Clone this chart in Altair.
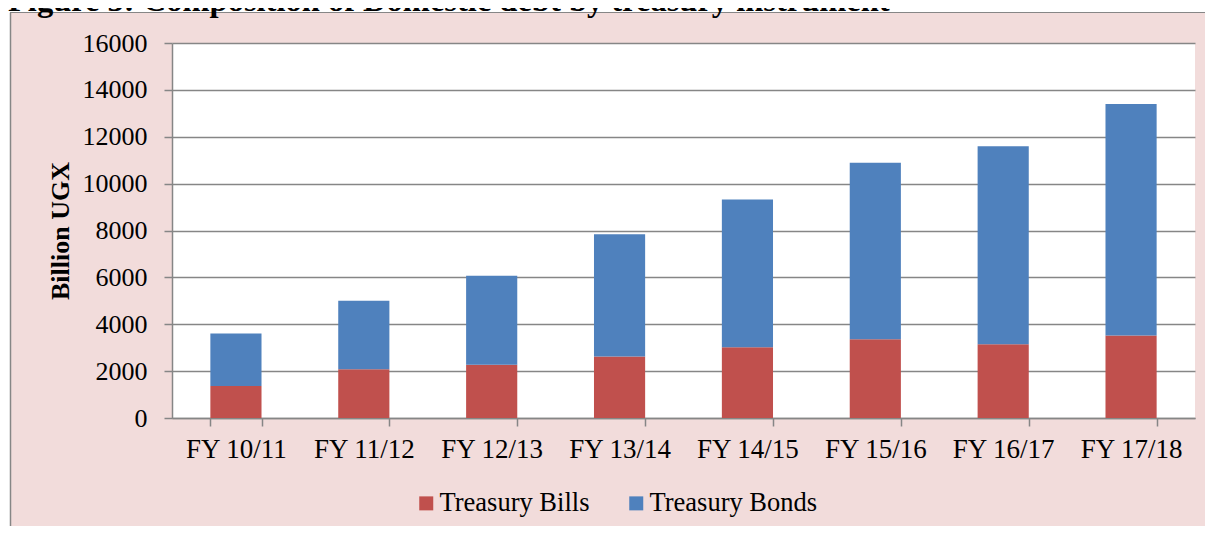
import altair as alt
import pandas as pd

years = ["FY 10/11", "FY 11/12", "FY 12/13", "FY 13/14",
         "FY 14/15", "FY 15/16", "FY 16/17", "FY 17/18"]
bills = [1370, 2080, 2270, 2620, 3020, 3360, 3150, 3520]
bonds = [2240, 2920, 3800, 5220, 6300, 7530, 8450, 9880]
series = ["Treasury Bills", "Treasury Bonds"]
colors = ["#C0504D", "#4F81BD"]
y_ticks = [0, 2000, 4000, 6000, 8000, 10000, 12000, 14000, 16000]
title_text = "Figure 3: Composition of Domestic debt by treasury instrument"
y_title = "Billion UGX"

rows = []
for i, yr in enumerate(years):
    rows.append({"year": yr, "series": series[0], "value": bills[i], "order": 0})
    rows.append({"year": yr, "series": series[1], "value": bonds[i], "order": 1})
df = pd.DataFrame(rows)

W, H = 1023, 375
FONT = "Liberation Serif"
GRAY = "#868686"
PINK = "#F2DCDB"

bars = alt.Chart(df).mark_bar().encode(
    x=alt.X("year:N", sort=years, title=None,
            scale=alt.Scale(paddingInner=0.6, paddingOuter=0.3),
            axis=alt.Axis(labelAngle=0, tickBand="extent", tickSize=8,
                          labelPadding=10, labelFontSize=27, grid=False)),
    y=alt.Y("value:Q", stack="zero", title=y_title,
            scale=alt.Scale(domain=[0, 16000], nice=False),
            axis=alt.Axis(values=y_ticks, format="d", tickSize=8,
                          labelPadding=17, grid=True, titleX=-112,
                          titleBaseline="middle", titleAlign="center")),
    color=alt.Color("series:N",
                    scale=alt.Scale(domain=series, range=colors),
                    legend=alt.Legend(title=None, orient="none", legendX=241,
                                      legendY=447, direction="horizontal",
                                      symbolType="square", symbolSize=196,
                                      symbolStrokeWidth=0, labelFont=FONT,
                                      labelFontSize=26.5, labelColor="black",
                                      labelOffset=0, columnPadding=33,
                                      padding=0, labelLimit=0)),
    order=alt.Order("order:Q"),
)

one = alt.Data(values=[{"a": 1}])
white_top = alt.Chart(one).mark_rect(color="white").encode(
    x=alt.value(-164), x2=alt.value(1040), y=alt.value(-35), y2=alt.value(-30.5))
white_left = alt.Chart(one).mark_rect(color="white").encode(
    x=alt.value(-164), x2=alt.value(-162), y=alt.value(-35), y2=alt.value(490))
border_top = alt.Chart(one).mark_rule(color=GRAY, strokeWidth=1.2).encode(
    x=alt.value(-162), x2=alt.value(1040), y=alt.value(-30.5))
border_left = alt.Chart(one).mark_rule(color=GRAY, strokeWidth=1.5).encode(
    x=alt.value(-161.5), y=alt.value(-30.5), y2=alt.value(490))
title = alt.Chart(one).mark_text(
    text=title_text, align="left", baseline="alphabetic", font=FONT,
    fontSize=32.5, fontWeight="bold", color="black").encode(
    x=alt.value(-164), y=alt.value(-32))

chart = alt.layer(bars, white_top, white_left, border_top, border_left,
                  title).properties(
    width=W, height=H,
    autosize=alt.AutoSizeParams(type="none"),
    padding={"left": 164, "top": 35, "right": 10, "bottom": 108},
    background=PINK,
).configure_view(fill="white", stroke=None).configure_axis(
    labelFont=FONT, labelFontSize=26, labelColor="black",
    titleFont=FONT, titleFontSize=26, titleFontWeight="bold", titleColor="black",
    domainColor=GRAY, tickColor=GRAY, gridColor=GRAY,
    domainWidth=1.5, tickWidth=1.5, gridWidth=1.5,
)

chart.save("out.html", embed_options={"renderer": "svg", "actions": False})
